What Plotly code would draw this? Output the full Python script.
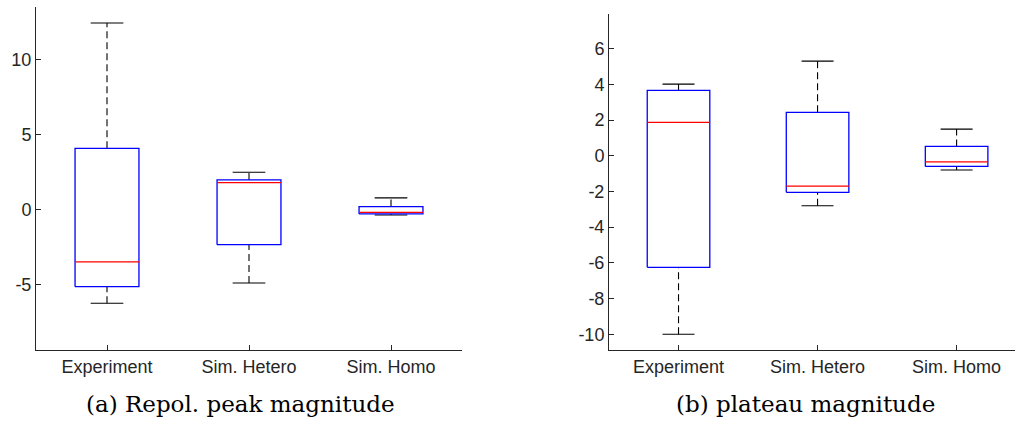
import plotly.graph_objects as go

# Group labels shared by both panels
categories = ["Experiment", "Sim. Hetero", "Sim. Homo"]

# (a) Repol. peak magnitude: five-number summaries per group
peak_lower = [-6.25, -4.9, -0.37]
peak_q1 = [-5.15, -2.35, -0.30]
peak_median = [-3.5, 1.79, -0.19]
peak_q3 = [4.08, 1.97, 0.19]
peak_upper = [12.43, 2.48, 0.77]

# (b) plateau magnitude: five-number summaries per group
plat_lower = [-10.0, -2.8, -0.8]
plat_q1 = [-6.25, -2.05, -0.6]
plat_median = [1.87, -1.70, -0.34]
plat_q3 = [3.66, 2.43, 0.52]
plat_upper = [4.01, 5.30, 1.49]

# Tick values and their labels (plain hyphen minus)
peak_ticks = [-5, 0, 5, 10]
peak_tick_text = ["-5", "0", "5", "10"]
plat_ticks = [-10, -8, -6, -4, -2, 0, 2, 4, 6]
plat_tick_text = ["-10", "-8", "-6", "-4", "-2", "0", "2", "4", "6"]

BOX_HALF = 0.225
CAP_HALF = 0.115
AXIS_COLOR = "#262626"

fig = go.Figure()


def add_boxes(lower, q1, med, q3, upper, xa, ya):
    for i in range(len(categories)):
        x = i
        # whiskers (dashed)
        for a, b in ((q3[i], upper[i]), (lower[i], q1[i])):
            fig.add_trace(go.Scatter(
                x=[x, x], y=[a, b], mode="lines", xaxis=xa, yaxis=ya,
                line=dict(color="black", width=1.1, dash="7px,4px"),
                hoverinfo="skip", showlegend=False))
        # caps
        for v in (upper[i], lower[i]):
            fig.add_trace(go.Scatter(
                x=[x - CAP_HALF, x + CAP_HALF], y=[v, v], mode="lines",
                xaxis=xa, yaxis=ya, line=dict(color="black", width=1.1),
                hoverinfo="skip", showlegend=False))
        # box outline
        fig.add_trace(go.Scatter(
            x=[x - BOX_HALF, x + BOX_HALF, x + BOX_HALF, x - BOX_HALF, x - BOX_HALF],
            y=[q1[i], q1[i], q3[i], q3[i], q1[i]], mode="lines",
            xaxis=xa, yaxis=ya, line=dict(color="#0000FF", width=1.3),
            hoverinfo="skip", showlegend=False))
        # median
        fig.add_trace(go.Scatter(
            x=[x - BOX_HALF, x + BOX_HALF], y=[med[i], med[i]], mode="lines",
            xaxis=xa, yaxis=ya, line=dict(color="#FF0000", width=1.3),
            hoverinfo="skip", showlegend=False))


add_boxes(peak_lower, peak_q1, peak_median, peak_q3, peak_upper, "x", "y")
add_boxes(plat_lower, plat_q1, plat_median, plat_q3, plat_upper, "x2", "y2")

W, H = 1015, 424
tick_font = dict(family="Liberation Sans, Arial, sans-serif", size=18, color=AXIS_COLOR)
caption_font = dict(family="DejaVu Serif, serif", size=23, color="black")

common_x = dict(
    tickmode="array", tickvals=list(range(len(categories))), ticktext=categories,
    showline=True, linecolor=AXIS_COLOR, linewidth=1, mirror=False,
    ticks="inside", ticklen=5, tickcolor=AXIS_COLOR, tickfont=tick_font,
    showgrid=False, zeroline=False, fixedrange=True,
)
common_y = dict(
    tickmode="array", showline=True, linecolor=AXIS_COLOR, linewidth=1,
    ticks="inside", ticklen=5, tickcolor=AXIS_COLOR, tickfont=tick_font,
    showgrid=False, zeroline=False, fixedrange=True,
)

fig.update_layout(
    width=W, height=H,
    margin=dict(l=0, r=0, t=0, b=0),
    paper_bgcolor="white", plot_bgcolor="white",
    xaxis=dict(common_x, domain=[36 / W, 462 / W], range=[-0.5, 2.5], anchor="y"),
    yaxis=dict(common_y, domain=[(H - 350) / H, (H - 7) / H], range=[-9.37, 13.5],
               tickvals=peak_ticks, ticktext=peak_tick_text, anchor="x"),
    xaxis2=dict(common_x, domain=[609 / W, 1.0], range=[-0.5, 2.42], anchor="y2"),
    yaxis2=dict(common_y, domain=[(H - 350) / H, (H - 14.3) / H], range=[-10.88, 7.92],
                tickvals=plat_ticks, ticktext=plat_tick_text, anchor="x2"),
    annotations=[
        dict(text="(a) Repol. peak magnitude", x=240 / W, y=(H - 404) / H,
             xref="paper", yref="paper", showarrow=False, xanchor="center", yanchor="middle",
             font=caption_font),
        dict(text="(b) plateau magnitude", x=805 / W, y=(H - 404) / H,
             xref="paper", yref="paper", showarrow=False, xanchor="center", yanchor="middle",
             font=caption_font),
    ],
)

fig.write_html("out.html")
